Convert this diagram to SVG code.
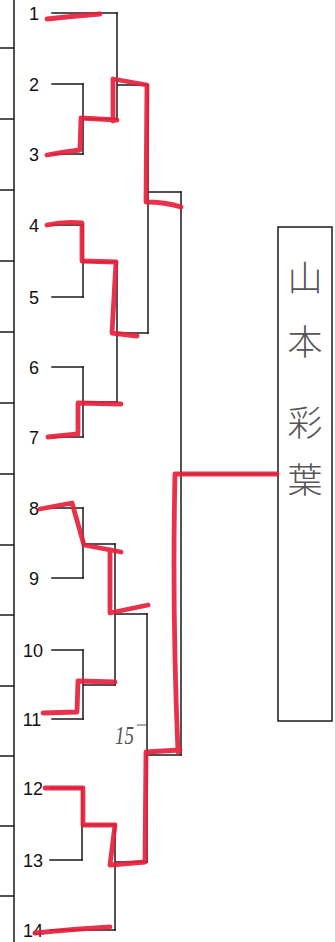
<svg xmlns="http://www.w3.org/2000/svg" width="335" height="942" viewBox="0 0 335 942">
<style>
.ln{fill:none;stroke:#1a1a1a;stroke-width:1.5;stroke-linecap:square}
.num{font-family:"Liberation Sans",Arial,sans-serif;font-size:18px;fill:#111;text-anchor:middle}
.hl{fill:none;stroke:#e8203c;stroke-width:4.8;stroke-linecap:round;stroke-linejoin:round;opacity:0.92}
.kj{font-family:"Noto Sans CJK JP",sans-serif;font-weight:300;font-size:35px;fill:#555;text-anchor:middle;dominant-baseline:central}
.hw{font-family:"Liberation Serif",serif;font-style:italic;font-size:26px;fill:#555}
</style>
<rect width="335" height="942" fill="#fff"/>
<g id="frame" class="ln">
<path d="M14 0V942M0 48H14M0 119H14M0 190H14M0 261H14M0 332H14M0 403H14M0 474H14M0 545H14M0 615H14M0 686H14M0 756H14M0 826H14M0 896H14"/>
</g>
<g id="p1"><text class="num" x="34" y="20">1</text><path class="ln" d="M52 13H117"/></g>
<g id="p2"><text class="num" x="34" y="91">2</text><path class="ln" d="M52 84H83"/></g>
<g id="p3"><text class="num" x="34" y="161">3</text><path class="ln" d="M52 154H83"/></g>
<g id="p4"><text class="num" x="34" y="232">4</text><path class="ln" d="M52 225H83"/></g>
<g id="p5"><text class="num" x="34" y="304">5</text><path class="ln" d="M52 297H83"/></g>
<g id="p6"><text class="num" x="34" y="374">6</text><path class="ln" d="M52 367H83"/></g>
<g id="p7"><text class="num" x="34" y="444">7</text><path class="ln" d="M52 437H83"/></g>
<g id="p8"><text class="num" x="34" y="515">8</text><path class="ln" d="M52 508H83"/></g>
<g id="p9"><text class="num" x="34" y="585">9</text><path class="ln" d="M52 578H83"/></g>
<g id="p10"><text class="num" x="33" y="657">10</text><path class="ln" d="M52 650H83"/></g>
<g id="p11"><text class="num" x="32" y="726">11</text><path class="ln" d="M52 719H83"/></g>
<g id="p12"><text class="num" x="33" y="795">12</text><path class="ln" d="M50 788H82"/></g>
<g id="p13"><text class="num" x="33" y="867">13</text><path class="ln" d="M50 860H82"/></g>
<g id="p14"><text class="num" x="33" y="937">14</text><path class="ln" d="M50 930H115"/></g>
<g id="winner">
<rect class="ln" x="278" y="227" width="54" height="494"/>
<text class="kj" x="305" y="275">山</text>
<text class="kj" x="305" y="339">本</text>
<text class="kj" x="305" y="420">彩</text>
<text class="kj" x="305" y="477">葉</text>
</g>
<g id="connectors" class="ln">
<path d="M83 84V154M83 119H117"/>
<path d="M117 13V119M117 85H148"/>
<path d="M83 225V297M83 262H117"/>
<path d="M83 367V437M83 402H117"/>
<path d="M117 262V402M117 333H148"/>
<path d="M148 85V333M148 192H181"/>
<path d="M83 508V578M83 544H115"/>
<path d="M83 650V719M83 685H115"/>
<path d="M115 544V685M115 614H147"/>
<path d="M82 788V860M82 825H115"/>
<path d="M115 825V930M115 862H147"/>
<path d="M147 614V862M147 755H181"/>
<path d="M181 192V755M181 474H278"/>
</g>
<g id="note15">
<text class="hw" x="115" y="744" textLength="19" lengthAdjust="spacingAndGlyphs">15</text>
<path d="M137 725H147" stroke="#555" stroke-width="1" fill="none"/>
</g>
<g id="highlights" class="hl">
<path d="M47 19Q75 16 100 14"/>
<path d="M47 155Q64 152 80 150L81 118L117 120"/>
<path d="M113 121L113 79L147 85L146 202Q165 202 181 207"/>
<path d="M47 225Q65 221 82 223L82 261L116 262L112 333L137 336"/>
<path d="M48 437L78 434L78 403L121 404"/>
<path d="M40 509L72 503L84 545L121 552"/>
<path d="M110 550L110 613L148 605"/>
<path d="M43 713L77 712L78 681L115 682"/>
<path d="M45 788L83 788L83 825L115 825L110 865L145 862L146 752L180 750"/>
<path d="M178 752Q172 610 175 474L277 474"/>
<path d="M35 933Q75 929 110 927"/>
</g>
</svg>
